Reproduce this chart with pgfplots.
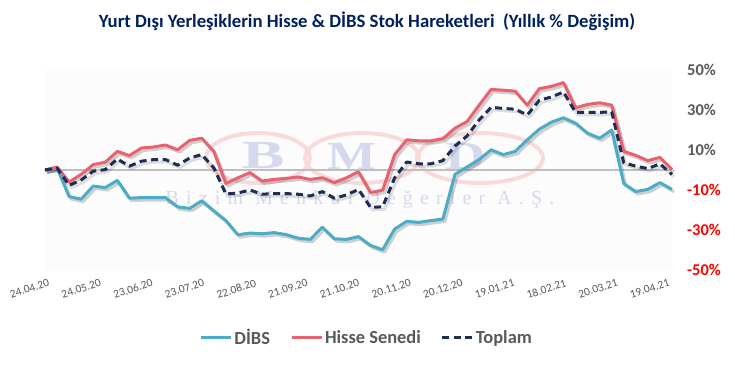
\documentclass[border=0pt]{standalone}
\usepackage{pgfplots}
\pgfplotsset{compat=1.18}
\usepackage{pgfplotstable}
\usepackage{fontspec}
\setmainfont{Carlito}
\newfontfamily\wmfont{Liberation Serif}[LetterSpace=36]
\newfontfamily\wmbig{Liberation Serif}
\definecolor{dibsc}{RGB}{75,172,198}
\definecolor{hissec}{RGB}{232,98,112}
\definecolor{topc}{RGB}{31,45,86}
\definecolor{titlec}{RGB}{0,32,96}
\definecolor{lgray}{RGB}{89,89,89}
\definecolor{negred}{RGB}{255,0,0}
\definecolor{zerogray}{RGB}{191,191,191}
\definecolor{wmlav}{RGB}{214,217,238}
\definecolor{wmred}{RGB}{249,218,218}

\pgfplotstableread{
x dibs hisse toplam
0 0 0 0
7 1 1.5 1
14 -13.3 -6 -7.7
21 -14.6 -2.2 -5
28 -8 2.7 -0.6
35 -8.8 3.9 0.2
42 -5.2 9.3 5.5
49 -14.1 7.2 1.9
56 -13.8 11 4.4
63 -13.8 11.5 5.2
70 -13.8 12.5 5.2
77 -18.4 10.1 2.4
84 -19.2 14.8 6
91 -15.4 15.9 7.7
98 -20.4 9.3 1.1
105 -25.3 -6.8 -12
112 -32.4 -3.9 -11.5
119 -31.5 -1.3 -10
126 -31.9 -5.5 -12.1
133 -31.3 -4.7 -11.8
140 -32.3 -4.2 -11.8
147 -34.1 -3.5 -12.1
154 -34.7 -4.7 -13
161 -28.6 -3.9 -10.8
168 -34.4 -6.3 -14.1
175 -34.7 -3.9 -12.5
182 -33.3 -0.9 -9.7
189 -37.7 -11.3 -18.7
196 -39.9 -10.1 -18.4
203 -29.5 7.7 -3.9
210 -25.7 15.1 4.0
217 -26.2 14.6 3.1
224 -25.3 14.6 3.1
231 -24.5 15.6 4.7
238 -2.2 20.9 12
245 1.5 24.2 17
252 5.2 32.4 25
259 10.1 40.3 31.3
266 7.7 39.9 30.8
273 9.3 39.4 30.4
280 15.1 32.4 27.5
287 20.4 40.7 34.9
294 23.9 41.8 36.5
301 26.1 43.7 39
308 23.4 31.1 28.8
315 18.4 32.8 28.8
322 15.9 33.6 28.8
329 20 32.4 29.1
336 -6.8 9.3 3.6
343 -10.8 7.3 1.9
350 -9.7 4.7 0.7
357 -6.3 6.3 3.1
364 -9.7 0.2 -2.2
}\data

\begin{document}
\begin{tikzpicture}
\path[use as bounding box, fill=white] (0,0) rectangle (735bp,376bp);
% plot area background
\fill[fill={rgb,255:red,252;green,252;blue,252}] (44bp,106bp) rectangle (672bp,306bp);
% watermark
\begin{scope}[line width=4bp, draw=wmred]
\draw (258bp,218bp) ellipse [x radius=52bp, y radius=25bp];
\draw (362bp,218bp) ellipse [x radius=57bp, y radius=25bp];
\draw (480bp,218bp) ellipse [x radius=63bp, y radius=25bp];
\end{scope}
\node[text=wmlav, font=\wmbig\bfseries\fontsize{40}{42}\selectfont, xscale=1.6] at (264bp,220bp) {B};
\node[text=wmlav, font=\wmbig\bfseries\fontsize{40}{42}\selectfont, xscale=1.3] at (352bp,220bp) {M};
\node[text=wmlav, font=\wmbig\bfseries\fontsize{40}{42}\selectfont, xscale=1.4] at (466bp,220bp) {D};
\node[text=wmlav, font=\wmfont\fontsize{20}{22}\selectfont] at (360bp,176bp) {Bizim Menkul Değerler A.Ş.};
% title
\node[font=\bfseries\fontsize{18.8}{22}\selectfont, text=titlec] at (367bp,355bp) {Yurt Dışı Yerleşiklerin Hisse \& DİBS Stok Hareketleri\ \ (Yıllık \% Değişim)};
\begin{axis}[
  scale only axis,
  width=627bp, height=200bp,
  at={(45bp,106bp)}, anchor=south west,
  xmin=0, xmax=364, ymin=-50, ymax=50,
  clip=false,
  axis line style={draw=none},
  major tick length=0pt,
  xtick={0,30,...,360},
  xticklabels={24.04.20,24.05.20,23.06.20,23.07.20,22.08.20,21.09.20,21.10.20,20.11.20,20.12.20,19.01.21,18.02.21,20.03.21,19.04.21},
  xticklabel style={rotate=18, anchor=north east, inner sep=0pt, yshift=-9bp, font=\fontsize{11.5}{13}\selectfont, text=lgray},
  ytick={-50,-30,-10,10,30,50},
  yticklabels={\textcolor{negred}{-50\%},\textcolor{negred}{-30\%},\textcolor{negred}{-10\%},\textcolor{lgray}{10\%},\textcolor{lgray}{30\%},\textcolor{lgray}{50\%}},
  yticklabel pos=right,
  yticklabel style={anchor=west, inner sep=0pt, xshift=15bp, font=\bfseries\fontsize{16.5}{18}\selectfont},
  extra y ticks={0},
  extra y tick labels={},
  extra y tick style={ymajorgrids=true, major grid style={color=zerogray, line width=1.5bp}},
  legend style={at={(0.513,-0.34)}, anchor=center, draw=none, fill=none,
    legend columns=3, font=\bfseries\fontsize{18.5}{22}\selectfont, text=lgray,
    /tikz/every even column/.append style={column sep=18bp}, inner sep=0pt},
  legend image code/.code={\draw[#1] (0bp,0bp) -- (30bp,0bp);},
]
% shadows
\addplot[draw=black, opacity=0.18, line width=3bp, line join=round, forget plot] table[x expr=\thisrow{x}+1.2, y expr=\thisrow{dibs}-1.2]{\data};
\addplot[draw=black, opacity=0.18, line width=3bp, line join=round, forget plot] table[x expr=\thisrow{x}+1.2, y expr=\thisrow{hisse}-1.2]{\data};
\addplot[draw=black, opacity=0.12, line width=3bp, line join=round, forget plot] table[x expr=\thisrow{x}+1.2, y expr=\thisrow{toplam}-1.2]{\data};
% series
\addplot[dibsc, line width=3bp, line join=round] table[x=x, y=dibs]{\data};
\addlegendentry{DİBS}
\addplot[hissec, line width=3bp, line join=round] table[x=x, y=hisse]{\data};
\addlegendentry{Hisse Senedi}
\addplot[topc, line width=3bp, line join=round, dash pattern=on 7bp off 4.5bp] table[x=x, y=toplam]{\data};
\addlegendentry{Toplam}
\end{axis}
\end{tikzpicture}
\end{document}
